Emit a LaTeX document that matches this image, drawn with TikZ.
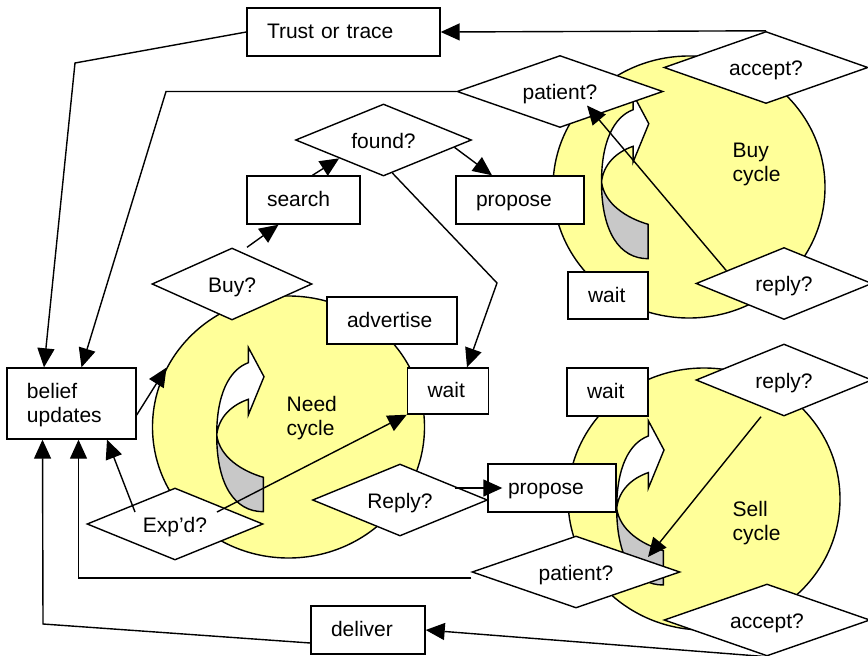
\documentclass[tikz,border=0pt]{standalone}
\usepackage{fontspec}
\setmainfont{Liberation Sans}
\usetikzlibrary{shapes.geometric,arrows.meta,calc}
\definecolor{cycleyellow}{HTML}{FFFF99}
\definecolor{backgrey}{HTML}{C8C8C8}

% curved block arrow drawn inside each cycle; origin is its leftmost point
\tikzset{
  cyclearrow/.pic={
    \draw[fill=white] (0,0) .. controls (0,-40) and (12,-65) .. (31.6,-72.3)
      -- (31.6,-87.7) -- (47.3,-58.3) -- (31.6,-20) -- (31.6,-35.7)
      .. controls (15,-30) and (2,-18) .. cycle;
    \draw[fill=backgrey] (0,0) .. controls (0,50) and (18,76.7) .. (46.6,76.7)
      -- (46.6,42.3) .. controls (25,36) and (3,22) .. cycle;
  }
}

\begin{document}
\begin{tikzpicture}[x=1pt,y=-1pt,line width=1.4pt,
  every node/.style={font=\fontsize{21}{24}\selectfont},
  cyclebg/.style={ellipse,draw,fill=cycleyellow,minimum width=272pt,minimum height=262pt,inner sep=0pt},
  box/.style={rectangle,draw,fill=white,inner xsep=20pt,inner ysep=0pt,minimum height=48pt,align=left},
  oneline/.style={text height=16pt,text depth=3pt},
  query/.style={diamond,draw,fill=white,inner sep=0pt,minimum height=72pt,shape aspect=2.5,
    text height=18pt,text depth=2pt},
  arr/.style={-{Triangle[length=19pt,width=17pt]}},
  lbl/.style={anchor=west,align=left,inner sep=0pt}]

\useasboundingbox (0,0) rectangle (868,656);

% the three cycles
\node[cyclebg] (need) at (288.5,427) {};
\node[cyclebg] (buycyc) at (689,187) {};
\node[cyclebg] (sellcyc) at (704,499) {};

\pic at (216.7,435) {cyclearrow};
\pic at (616.7,508.3) {cyclearrow};
\begin{scope}[shift={(601.5,182)},yscale=-1]
  \pic {cyclearrow};
\end{scope}

\node[lbl] (needlbl) at (286,418) {Need\\cycle};
\node[lbl] (buylbl) at (732,164.5) {Buy\\cycle};
\node[lbl] (selllbl) at (732,523.5) {Sell\\cycle};

% actions
\node[box,oneline,text width=153pt] (trust) at (343.5,32) {Trust or trace};
\node[box,oneline,text width=73pt] (search) at (303.5,200) {search};
\node[box,oneline,text width=88pt] (proposeB) at (520,200) {propose};
\node[box,oneline,text width=90pt,minimum height=47pt] (advert) at (392,320.5) {advertise};
\node[box,oneline,text width=41pt,minimum height=46pt] (waitN) at (448,391) {wait};
\node[box,oneline,text width=40pt,minimum height=47pt] (waitB) at (608,295.5) {wait};
\node[box,oneline,text width=41pt] (waitS) at (607.5,392) {wait};
\node[box,oneline,text width=88pt] (proposeS) at (552,488) {propose};
\node[box,oneline,text width=74pt] (deliver) at (368,630) {deliver};
\node[box,text width=89pt,minimum height=71pt,text height=18.3pt,text depth=28.4pt] (belief) at (71.5,403.5) {belief\\updates};

% decisions
\node[query,minimum width=176pt] (found) at (383.5,140) {found?};
\node[query,minimum width=160pt] (buyq) at (232,284) {Buy?};
\node[query,minimum width=206pt] (patB) at (560,91.5) {patient?};
\node[query,minimum width=204pt] (accB) at (766,67.5) {accept?};
\node[query,minimum width=176pt] (repB) at (784,283.5) {reply?};
\node[query,minimum width=176pt] (repS) at (784,380) {reply?};
\node[query,minimum width=208pt] (patS) at (576,572) {patient?};
\node[query,minimum width=206pt] (accS) at (767,620) {accept?};
\node[query,minimum width=175pt] (replyN) at (400,500) {Reply?};
\node[query,minimum width=176pt] (expd) at (175,524) {Exp’d?};

% bend points
\coordinate (bendA) at (75,63);
\coordinate (bendB) at (166,91.5);
\coordinate (bendC) at (497,283);
\coordinate (bendD) at (43,624);

% connectors
\draw[arr] (accB.north) -- (trust.east);
\draw[arr] (trust.west) -- (bendA) -- ([xshift=-27.5pt]belief.north);
\draw[arr] (patB.west) -- (bendB) -- ([xshift=10pt]belief.north);
\draw[arr] ([xshift=15pt]buyq.north) -- ([xshift=-25pt]search.south);
\draw[arr] ([xshift=9pt]search.north) -- (found.south west);
\draw[arr] ($(found.east)!0.2!(found.south)$) -- ([xshift=-28pt]proposeB.north);
\draw[arr] ($(found.south)!0.1!(found.east)$) -- (bendC) -- ([xshift=19pt]waitN.north);
\draw[arr] ([xshift=42pt,yshift=12pt]expd.center) -- (waitN.south west);
\draw[arr] ([xshift=-40pt,yshift=12pt]expd.center) -- ([xshift=35.5pt]belief.south);
\draw[arr] ([xshift=55pt,yshift=12pt]replyN.center) -- ([xshift=15pt]proposeS.west);
\draw[arr] ($(repB.west)!0.35!(repB.north)$) -- ([xshift=27pt,yshift=-14pt]patB.center);
\draw[arr] ([xshift=-23pt]repS.south) -- ([xshift=72pt,yshift=15pt]patS.center);
\draw[arr] ([yshift=-6pt]patS.west) -| ([xshift=7pt]belief.south);
\draw[arr] (accS.south) -- (deliver.east);
\draw[arr] ([yshift=-13pt]deliver.west) -- (bendD) -- ([xshift=-29pt]belief.south);
\draw[arr] ([yshift=-11.5pt]belief.east) -- (need.154);

\end{tikzpicture}
\end{document}
